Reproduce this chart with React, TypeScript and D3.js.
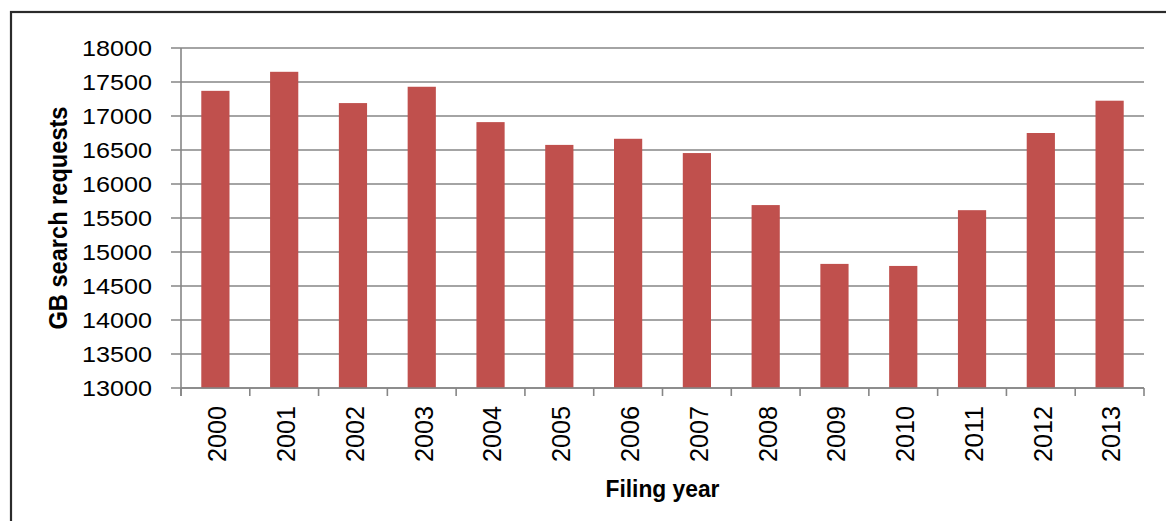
import React from "react";
import * as d3 from "d3";

const years = ["2000","2001","2002","2003","2004","2005","2006","2007","2008","2009","2010","2011","2012","2013"];
const requests = [17370, 17650, 17190, 17430, 16910, 16575, 16665, 16455, 15690, 14825, 14795, 15615, 16750, 17225];
const yTicks = [13000, 13500, 14000, 14500, 15000, 15500, 16000, 16500, 17000, 17500, 18000];
const yTitle = "GB  search requests";
const xTitle = "Filing year";

export default function App() {
  const W = 1166, H = 521;
  const left = 181, right = 1144, top = 48, bottom = 388;
  const x = d3.scaleBand<string>().domain(years).range([left, right]).paddingInner(0.59).paddingOuter(0.295);
  const y = d3.scaleLinear().domain([13000, 18000]).range([bottom, top]);
  const step = x.step();
  const grid = "#868686";
  const font = "'Liberation Sans', Arial, sans-serif";
  const boundaries = d3.range(years.length + 1).map((i) => left + i * step);

  return (
    <svg width={W} height={H} style={{ position: "absolute", left: 0, top: 0, background: "#fff" }}>
      <rect x={0} y={0} width={W} height={H} fill="#fff" />
      <rect x={11} y={12} width={W + 20} height={H + 20} fill="none" stroke="#2b2b2b" strokeWidth={2.2} />
      {yTicks.map((t) => (
        <line key={"g" + t} x1={171} x2={right} y1={y(t)} y2={y(t)} stroke={grid} strokeWidth={1.6} />
      ))}
      {years.map((yr, i) => (
        <rect key={yr} x={x(yr)} y={y(requests[i])} width={x.bandwidth()} height={bottom - y(requests[i])} fill="#C0504D" />
      ))}
      <line x1={left} x2={left} y1={top} y2={bottom + 8} stroke={grid} strokeWidth={1.6} />
      <line x1={left} x2={right} y1={bottom} y2={bottom} stroke={grid} strokeWidth={1.6} />
      {boundaries.map((b, i) => (
        <line key={"t" + i} x1={b} x2={b} y1={bottom} y2={bottom + 8} stroke={grid} strokeWidth={1.6} />
      ))}
      {yTicks.map((t) => (
        <text key={"l" + t} x={152} y={y(t)} dy="0.36em" textAnchor="end" fontFamily={font} fontSize={22}
          textLength={70} lengthAdjust="spacingAndGlyphs" fill="#000">{t}</text>
      ))}
      {years.map((yr) => {
        const cx = (x(yr) as number) + x.bandwidth() / 2 + 1.5;
        return (
          <text key={"x" + yr} transform={`translate(${cx},406) rotate(-90)`} textAnchor="end" dy="0.36em"
            fontFamily={font} fontSize={26} textLength={56} lengthAdjust="spacingAndGlyphs" fill="#000">{yr}</text>
        );
      })}
      <text transform={`translate(67,218) rotate(-90)`} textAnchor="middle" fontFamily={font} fontWeight="bold"
        fontSize={25} textLength={223} lengthAdjust="spacingAndGlyphs" fill="#000">{yTitle}</text>
      <text x={(left + right) / 2} y={497} textAnchor="middle" fontFamily={font} fontWeight="bold" fontSize={23}
        textLength={114} lengthAdjust="spacingAndGlyphs" fill="#000">{xTitle}</text>
    </svg>
  );
}
